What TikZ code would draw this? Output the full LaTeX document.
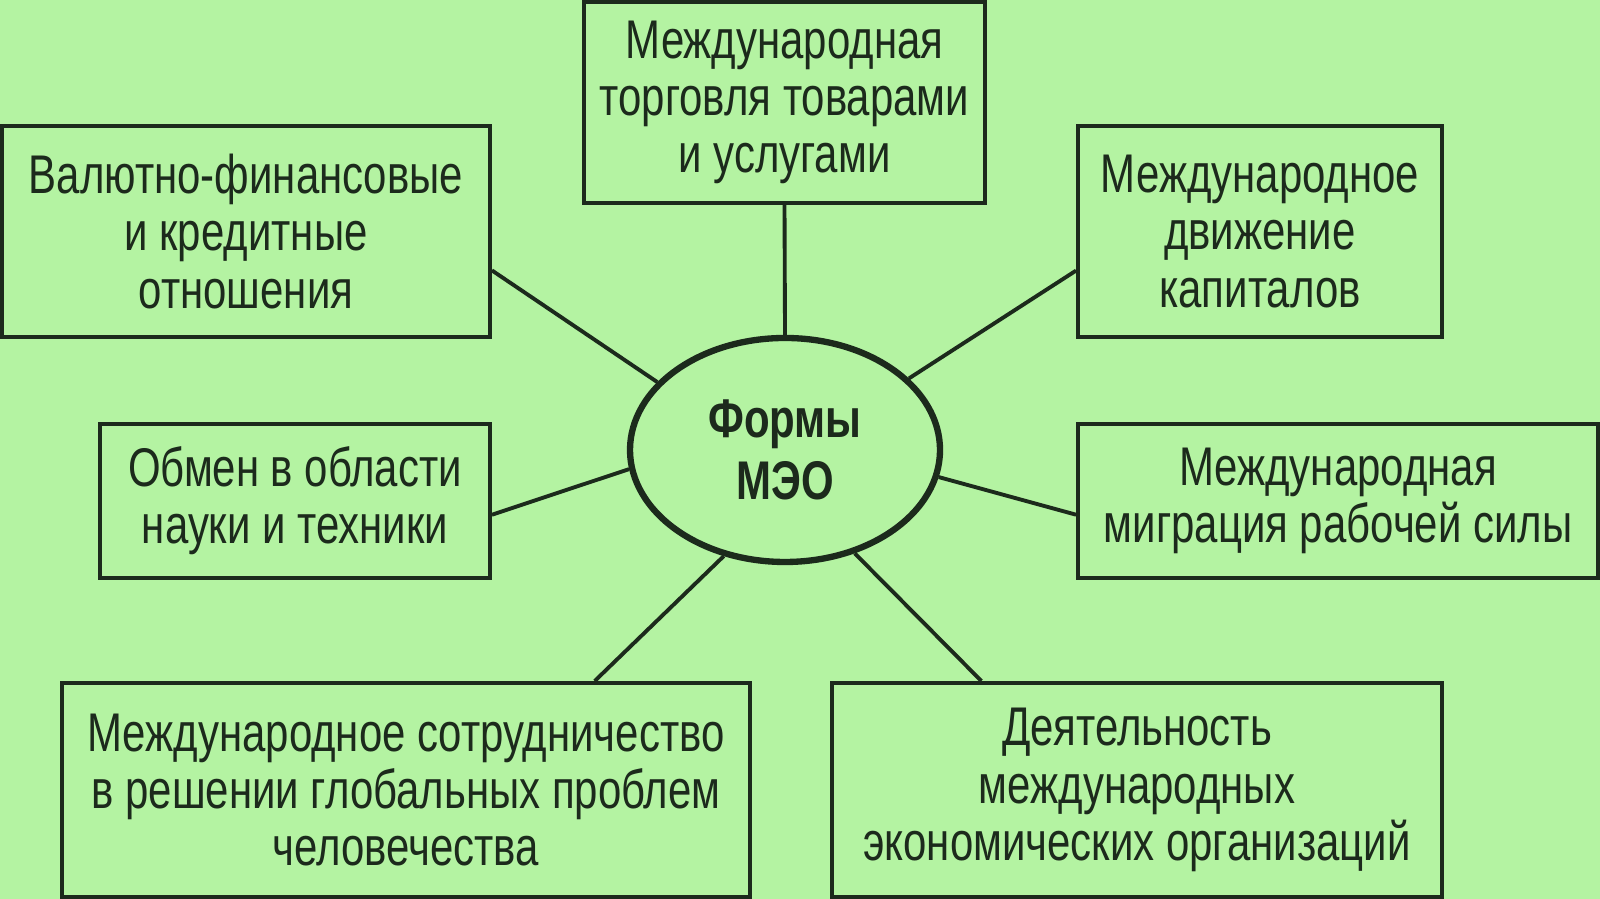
\documentclass[tikz,border=0pt]{standalone}
\usepackage{fontspec}
\setmainfont[FakeStretch=0.77]{Liberation Sans}
\usetikzlibrary{shapes.geometric}
\definecolor{bg}{HTML}{B4F3A2}
\definecolor{ink}{HTML}{1C2A1C}
\tikzset{
  form/.style={rectangle, draw=ink, line width=1.1pt, align=center, inner sep=0pt,
    font=\fontsize{15.5}{16.3}\selectfont, text=ink},
  link/.style={draw=ink, line width=1.1pt}
}
\begin{document}
\begin{tikzpicture}
  \fill[bg] (0,0) rectangle (16,8.99);
  \useasboundingbox (0,0) rectangle (16,8.99);
  % Nodes
  \node (meo) [ellipse, draw=ink, line width=1.8pt, minimum width=3.1cm, minimum height=2.24cm,
    font=\bfseries\fontsize{15.5}{17.5}\selectfont, align=center, text=ink] at (7.85, 4.49) {Формы\\МЭО};
  \node (trade) [form, minimum width=4.01cm, minimum height=2.01cm] at (7.845, 7.965)
    {Международная\\торговля товарами\\и услугами};
  \node (fin) [form, minimum width=4.88cm, minimum height=2.11cm] at (2.46, 6.675)
    {Валютно-финансовые\\и кредитные\\отношения};
  \node (cap) [form, minimum width=3.64cm, minimum height=2.11cm] at (12.6, 6.675)
    {Международное\\движение\\капиталов};
  \node (sci) [form, minimum width=3.9cm, minimum height=1.54cm] at (2.95, 3.98)
    {Обмен в области\\науки и техники};
  \node (lab) [form, minimum width=5.2cm, minimum height=1.54cm] at (13.38, 3.98)
    {Международная\\миграция рабочей силы};
  \node (glob) [form, minimum width=6.88cm, minimum height=2.14cm] at (4.06, 1.09)
    {Международное сотрудничество\\в решении глобальных проблем\\человечества};
  \node (org) [form, minimum width=6.1cm, minimum height=2.14cm] at (11.37, 1.09)
    {Деятельность\\международных\\экономических организаций};
  % Links
  \draw[link] (trade.south) -- (meo.north);
  \draw[link] (fin.-9) -- (meo.152);
  \draw[link] (cap.-168) -- (meo.30);
  \draw[link] (sci.-4) -- (meo.187);
  \draw[link] (lab.183) -- (meo.-10);
  \draw[link] (glob.30) -- (meo.240);
  \draw[link] (org.145) -- (meo.-56);
\end{tikzpicture}
\end{document}
